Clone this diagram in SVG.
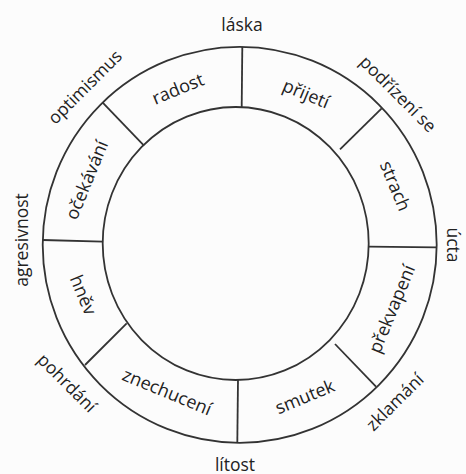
<svg xmlns="http://www.w3.org/2000/svg" width="466" height="474" viewBox="0 0 466 474">
<style>
.ring{fill:none;stroke:#333;stroke-width:1.8}
.div{stroke:#333;stroke-width:1.8;fill:none}
text{font-family:"Open Sans","Noto Sans","DejaVu Sans",sans-serif;fill:#222;text-anchor:middle}
.in{font-size:18px}
.out{font-size:17.5px}
</style>
<rect width="466" height="474" fill="#fcfcfc"/>
<g id="wheel">
<ellipse class="ring" cx="239.7" cy="244.8" rx="197" ry="198"/>
<ellipse class="ring" cx="235.7" cy="243.5" rx="133" ry="136.5"/>
</g>
<g id="connectors">
<line class="div" x1="242.3" y1="46.8" x2="241.7" y2="107"/>
<line class="div" x1="381.7" y1="108.3" x2="340" y2="149.3"/>
<line class="div" x1="436.7" y1="247.3" x2="368.5" y2="246.7"/>
<line class="div" x1="376" y1="386.7" x2="335" y2="344"/>
<line class="div" x1="237.3" y1="442.7" x2="238" y2="380"/>
<line class="div" x1="85" y1="365" x2="126.7" y2="323.3"/>
<line class="div" x1="42.7" y1="240" x2="102.7" y2="241.7"/>
<line class="div" x1="102.7" y1="102.7" x2="144" y2="145.7"/>
</g>
<g id="radost"><text class="in" transform="translate(178,89) rotate(-22.5)" y="6">radost</text></g>
<g id="prijeti"><text class="in" transform="translate(306,94) rotate(22.5)" y="6">přijetí</text></g>
<g id="strach"><text class="in" transform="translate(395,186) rotate(67.5)" y="6">strach</text></g>
<g id="prekvapeni"><text class="in" transform="translate(392,309) rotate(-67.5)" y="6">překvapení</text></g>
<g id="smutek"><text class="in" transform="translate(305,397) rotate(-22.5)" y="6">smutek</text></g>
<g id="znechuceni"><text class="in" transform="translate(167,392) rotate(22.5)" y="6">znechucení</text></g>
<g id="hnev"><text class="in" transform="translate(83,295) rotate(67.5)" y="6">hněv</text></g>
<g id="ocekavani"><text class="in" transform="translate(87,180) rotate(-67.5)" y="6">očekávání</text></g>
<g id="laska"><text class="out" transform="translate(242,25)" y="6">láska</text></g>
<g id="podrizeni"><text class="out" transform="translate(398,94) rotate(45)" y="6">podřízení se</text></g>
<g id="ucta"><text class="out" transform="translate(452.5,245) rotate(90)" y="6">úcta</text></g>
<g id="zklamani"><text class="out" transform="translate(395,402) rotate(-45)" y="6">zklamání</text></g>
<g id="litost"><text class="out" transform="translate(235,464.5)" y="6">lítost</text></g>
<g id="pohrdani"><text class="out" transform="translate(67,383) rotate(45)" y="6">pohrdání</text></g>
<g id="agresivnost"><text class="out" transform="translate(22,240) rotate(-90)" y="6">agresivnost</text></g>
<g id="optimismus"><text class="out" transform="translate(85,87) rotate(-45)" y="6">optimismus</text></g>
</svg>
